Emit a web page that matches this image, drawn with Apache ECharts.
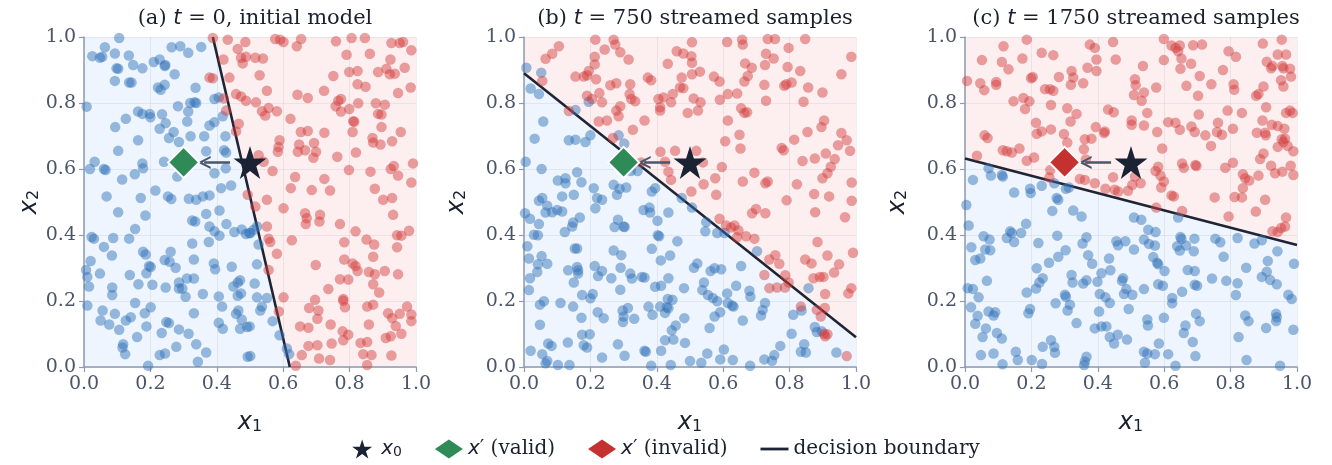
<!DOCTYPE html>
<html><head><meta charset="utf-8">
<script src="https://cdn.jsdelivr.net/npm/echarts@6/dist/echarts.min.js"></script>
<style>html,body{margin:0;padding:0;background:#fff}#c{width:1332px;height:465px}</style>
</head><body><div id="c"></div>
<script>
const ticks = [0, 0.2, 0.4, 0.6, 0.8, 1.0];
const panelTitles = ['(a) ', '(b) ', '(c) '];
const panelTitleMid = [' = 0, initial model', ' = 750 streamed samples', ' = 1750 streamed samples'];
const x0 = [0.5, 0.62];
const xPrime = [0.3, 0.62];
const arrowX = [0.44, 0.362];
const boundaryA = [[0.388, 1.0], [0.62, 0.0]];
const boundaryB = [[0.0, 0.89], [1.0, 0.09]];
const boundaryC = [[0.0, 0.632], [1.0, 0.37]];

const blueA = [[.106,.997],[.063,.969],[.025,.942],[.048,.937],[.055,.940],[.093,.950],[.135,.944],[.264,.969],[.290,.972],[.314,.952],[.353,.970],[.098,.905],[.103,.904],[.148,.915],[.176,.905],[.210,.924],[.228,.932],[.245,.915],[.243,.912],[.273,.887],[.093,.867],[.136,.862],[.143,.862],[.223,.847],[.231,.840],[.243,.855],[.336,.846],[.008,.789],[.163,.774],[.176,.767],[.198,.767],[.200,.757],[.235,.766],[.126,.752],[.094,.727],[.246,.739],[.228,.722],[.283,.790],[.320,.800],[.333,.802],[.338,.800],[.314,.774],[.311,.744],[.270,.712],[.256,.694],[.286,.682],[.321,.699],[.163,.687],[.103,.655],[.032,.622],[.018,.600],[.060,.600],[.065,.597],[.176,.617],[.178,.602],[.153,.584],[.115,.568],[.241,.622],[.281,.577],[.368,.654],[.362,.699],[.378,.732],[.393,.742],[.393,.812],[.406,.817],[.418,.760],[.426,.699],[.422,.657],[.428,.650],[.427,.602],[.393,.587],[.443,.550],[.413,.542],[.215,.535],[.171,.512],[.068,.517],[.253,.517],[.263,.509],[.316,.510],[.338,.507],[.358,.517],[.378,.520],
[.103,.469],[.185,.459],[.326,.444],[.335,.441],[.368,.464],[.408,.474],[.378,.426],[.393,.411],[.408,.398],[.429,.433],[.453,.409],[.475,.417],[.488,.403],[.498,.406],[.154,.418],[.136,.389],[.088,.391],[.023,.394],[.030,.389],[.060,.364],[.084,.338],[.020,.321],[.006,.294],[.010,.273],[.048,.283],[.015,.244],[.085,.241],[.085,.218],[.138,.279],[.164,.251],[.178,.349],[.186,.341],[.196,.306],[.201,.303],[.188,.284],[.206,.249],[.261,.349],[.243,.324],[.258,.319],[.276,.301],[.246,.241],[.286,.256],[.286,.238],[.296,.238],[.306,.213],[.310,.268],[.331,.268],[.331,.326],[.326,.374],[.376,.379],[.391,.314],[.395,.296],[.358,.221],[.406,.214],[.445,.304],[.450,.244],[.463,.256],[.470,.263],[.463,.216],[.473,.223],[.416,.183],[.458,.161],[.465,.171],[.475,.144],[.406,.134],[.418,.116],[.470,.116],[.491,.121],[.493,.031],[.010,.186],[.056,.171],[.050,.141],[.076,.129],[.093,.161],[.106,.113],[.126,.141],[.141,.151],[.154,.194],[.183,.163],[.201,.181],[.188,.123],[.160,.091],[.118,.069],[.116,.059],[.124,.039],[.234,.103],[.248,.136],[.256,.133],[.286,.114],[.315,.101],[.331,.163],[.338,.069],[.278,.061],[.228,.036],[.244,.041],[.368,.044],[.343,.016],[.193,.004],
[.501,.406],[.511,.416],[.521,.426],[.526,.371],[.521,.311],[.514,.253],[.521,.211],[.551,.209],[.536,.183],[.531,.171],[.568,.139],[.499,.123],[.589,.096],[.611,.056],[.618,.039],[.501,.033]];

const redA = [[.388,.997],[.433,.992],[.463,.964],[.486,.985],[.420,.932],[.473,.937],[.478,.920],[.488,.940],[.378,.877],[.388,.875],[.438,.877],[.458,.827],[.473,.820],[.488,.807],[.421,.814],[.428,.777],[.466,.737],[.458,.714],[.493,.522],
[.576,.994],[.591,.992],[.601,.985],[.654,.994],[.641,.972],[.759,.987],[.806,.997],[.846,.997],[.926,.982],[.951,.982],[.961,.985],[.986,.960],[.516,.937],[.539,.935],[.791,.946],[.861,.949],[.923,.932],[.966,.907],[.911,.904],[.886,.894],[.921,.887],[.936,.889],[.799,.894],[.824,.897],[.751,.882],[.529,.884],[.824,.857],[.848,.849],[.984,.847],[.946,.830],[.551,.837],[.643,.825],[.674,.815],[.723,.837],[.766,.807],[.774,.812],[.758,.790],[.774,.774],[.799,.782],[.826,.799],[.879,.799],[.906,.795],[.886,.767],[.896,.765],[.518,.802],[.536,.775],[.546,.762],[.556,.785],[.581,.775],[.622,.752],[.811,.745],[.814,.743],[.896,.727],[.653,.712],[.674,.715],[.724,.710],[.809,.712],[.954,.712],[.589,.687],[.586,.667],[.584,.652],[.648,.674],[.666,.657],[.644,.652],[.693,.679],[.699,.652],[.691,.634],[.869,.694],[.871,.680],[.893,.674],[.928,.684],[.763,.637],[.819,.650],[.541,.622],[.526,.642],[.991,.617],[.568,.594],[.636,.576],[.724,.570],[.798,.597],[.863,.592],[.924,.600],[.933,.609],[.946,.580],[.986,.559],[.623,.542],[.686,.536],[.741,.535],[.876,.540],[.901,.507],[.928,.512],[.551,.507],
[.516,.486],[.601,.481],[.666,.466],[.671,.451],[.668,.433],[.711,.461],[.709,.441],[.771,.433],[.931,.461],[.818,.411],[.979,.413],[.943,.399],[.956,.398],[.851,.386],[.874,.371],[.943,.363],[.784,.378],[.626,.384],[.551,.426],[.556,.389],[.561,.379],[.581,.343],[.698,.309],[.784,.326],[.809,.314],[.818,.306],[.824,.291],[.871,.334],[.858,.288],[.876,.281],[.906,.291],[.946,.281],[.771,.266],[.796,.265],[.871,.251],[.889,.226],[.736,.236],[.696,.204],[.601,.211],[.781,.206],[.781,.201],[.786,.181],[.678,.179],[.706,.171],[.703,.146],[.853,.183],[.871,.189],[.973,.183],[.916,.163],[.928,.148],[.951,.161],[.986,.159],[.986,.139],[.587,.168],[.651,.123],[.676,.119],[.743,.129],[.858,.129],[.939,.124],[.779,.108],[.796,.098],[.781,.081],[.909,.088],[.924,.093],[.956,.101],[.833,.073],[.853,.076],[.746,.071],[.676,.064],[.703,.066],[.841,.039],[.866,.036],[.926,.035],[.656,.036],[.708,.026],[.741,.021],[.853,.006],[.638,.004],[.556,.294]];

const blueB = [[.007,.907],[.052,.892],[.020,.844],[.045,.827],[.155,.779],[.195,.804],[.058,.744],[.032,.692],[.135,.687],[.155,.689],[.185,.682],[.200,.702],[.285,.702],[.302,.677],[.005,.622],[.053,.600],[.160,.590],[.102,.565],[.125,.572],[.125,.557],[.173,.560],[.210,.542],[.150,.522],[.115,.517],[.055,.512],[.045,.504],[.220,.512],[.235,.507],[.270,.552],[.288,.540],[.308,.544],[.280,.522],[.322,.594],[.342,.594],[.385,.532],[.395,.542],[.475,.512],
[.070,.489],[.065,.468],[.085,.469],[.100,.476],[.115,.471],[.003,.466],[.018,.449],[.045,.433],[.030,.401],[.042,.399],[.010,.366],[.015,.329],[.053,.336],[.042,.311],[.070,.313],[.040,.288],[.018,.269],[.015,.233],[.123,.409],[.145,.426],[.148,.438],[.168,.453],[.215,.481],[.283,.446],[.273,.424],[.300,.426],[.303,.424],[.360,.476],[.378,.483],[.380,.468],[.435,.468],[.402,.443],[.403,.399],[.407,.396],[.462,.381],[.440,.338],[.385,.358],[.412,.323],[.153,.359],[.160,.359],[.270,.353],[.293,.339],[.160,.303],[.163,.293],[.163,.283],[.133,.293],[.150,.256],[.213,.306],[.235,.291],[.223,.276],[.291,.301],[.320,.283],[.325,.268],[.263,.269],[.355,.273],[.363,.271],[.435,.269],[.395,.243],[.413,.246],[.482,.239],[.290,.234],[.207,.221],[.200,.208],[.175,.218],[.110,.194],[.060,.199],[.048,.189],[.148,.183],[.173,.149],[.222,.166],[.240,.148],[.297,.171],[.313,.179],[.300,.153],[.298,.136],[.332,.146],[.375,.183],[.387,.158],[.410,.183],[.430,.181],[.435,.178],[.425,.164],[.433,.206],[.447,.204],[.457,.126],[.445,.111],[.483,.148],[.048,.128],[.175,.098],[.198,.099],[.180,.066],[.190,.059],[.132,.074],[.073,.071],[.083,.064],[.020,.049],[.055,.039],[.070,.018],[.065,.011],[.102,.006],[.137,.006],[.235,.029],[.283,.069],[.303,.034],[.363,.049],[.367,.046],[.383,.004],[.425,.081],[.450,.083],[.413,.049],[.442,.006],[.485,.073],[.500,.018],
[.506,.483],[.549,.439],[.546,.411],[.582,.406],[.604,.406],[.702,.351],[.512,.301],[.522,.314],[.562,.291],[.574,.299],[.594,.296],[.654,.306],[.542,.256],[.537,.233],[.554,.218],[.569,.209],[.582,.199],[.612,.223],[.614,.194],[.639,.246],[.679,.231],[.682,.213],[.627,.186],[.631,.183],[.591,.166],[.574,.153],[.726,.194],[.719,.173],[.714,.156],[.659,.141],[.559,.118],[.857,.239],[.811,.158],[.836,.171],[.876,.121],[.882,.106],[.897,.108],[.806,.101],[.772,.064],[.844,.069],[.834,.046],[.849,.044],[.941,.044],[.552,.041],[.534,.013],[.602,.053],[.591,.023],[.629,.021],[.681,.004],[.724,.023],[.747,.019],[.754,.036]];

const redB = [[.215,.992],[.270,.992],[.275,.977],[.105,.972],[.085,.949],[.065,.934],[.243,.962],[.290,.954],[.315,.932],[.213,.940],[.213,.917],[.195,.897],[.190,.884],[.180,.880],[.155,.880],[.217,.872],[.260,.854],[.278,.860],[.320,.857],[.373,.877],[.383,.869],[.433,.919],[.460,.957],[.480,.950],[.475,.877],[.470,.847],[.480,.845],[.448,.827],[.227,.830],[.235,.802],[.190,.822],[.205,.812],[.318,.827],[.323,.812],[.335,.805],[.290,.790],[.278,.777],[.285,.760],[.405,.812],[.420,.817],[.410,.787],[.410,.777],[.443,.802],[.493,.770],[.225,.744],[.250,.747],[.363,.747],[.135,.776],[.328,.719],[.268,.694],[.411,.652],[.455,.655],[.425,.622],[.435,.592],[.443,.567],[.353,.620],[.055,.867],
[.506,.984],[.612,.985],[.657,.992],[.659,.977],[.734,.994],[.756,.994],[.847,.994],[.797,.967],[.729,.949],[.752,.935],[.726,.915],[.504,.942],[.506,.922],[.666,.920],[.686,.907],[.794,.909],[.832,.897],[.986,.940],[.956,.887],[.530,.895],[.506,.887],[.572,.880],[.589,.865],[.674,.882],[.664,.865],[.724,.855],[.784,.852],[.806,.862],[.790,.857],[.856,.847],[.899,.832],[.511,.814],[.532,.802],[.524,.777],[.590,.810],[.614,.827],[.642,.829],[.729,.807],[.842,.804],[.654,.784],[.664,.770],[.672,.772],[.614,.747],[.649,.704],[.606,.684],[.652,.662],[.814,.689],[.854,.712],[.776,.664],[.782,.657],[.904,.747],[.896,.727],[.956,.709],[.972,.687],[.946,.672],[.982,.655],[.839,.624],[.876,.632],[.909,.647],[.936,.630],[.924,.607],[.914,.587],[.899,.572],[.519,.655],[.539,.620],[.596,.606],[.576,.572],[.541,.554],[.504,.532],[.579,.522],[.659,.562],[.694,.589],[.727,.557],[.734,.562],[.822,.554],[.874,.524],[.919,.517],[.987,.559],[.987,.504],[.791,.505],
[.589,.449],[.609,.429],[.624,.423],[.634,.429],[.646,.414],[.642,.393],[.669,.396],[.694,.389],[.687,.466],[.699,.479],[.727,.466],[.877,.469],[.967,.454],[.884,.379],[.914,.338],[.991,.346],[.757,.339],[.739,.326],[.769,.313],[.847,.326],[.866,.314],[.949,.311],[.934,.286],[.724,.279],[.787,.278],[.797,.256],[.872,.269],[.891,.273],[.902,.273],[.739,.239],[.762,.241],[.786,.241],[.907,.221],[.977,.223],[.986,.239],[.834,.183],[.882,.173],[.906,.179],[.894,.153],[.904,.101],[.914,.099],[.907,.093],[.972,.033]];

const blueC = [[.024,.567],[.071,.602],[.078,.580],[.111,.582],[.114,.577],[.148,.529],[.196,.540],[.198,.527],[.231,.549],[.269,.557],[.276,.512],[.281,.507],[.304,.540],[.313,.544],
[.004,.491],[.011,.429],[.019,.363],[.031,.324],[.046,.329],[.056,.396],[.074,.386],[.061,.356],[.076,.354],[.263,.473],[.326,.474],[.351,.456],[.184,.434],[.169,.406],[.136,.411],[.141,.406],[.126,.391],[.148,.379],[.221,.376],[.278,.398],[.354,.374],[.366,.393],[.303,.354],[.371,.339],[.383,.313],[.281,.334],[.253,.316],[.216,.299],[.234,.269],[.224,.256],[.214,.238],[.186,.226],[.321,.279],[.324,.256],[.356,.253],[.366,.263],[.399,.258],[.411,.284],[.438,.293],[.434,.329],[.456,.381],[.461,.369],[.483,.381],[.476,.269],[.473,.261],[.486,.236],[.479,.221],[.066,.261],[.008,.239],[.024,.236],[.041,.211],[.018,.181],[.038,.155],[.031,.131],[.071,.168],[.086,.156],[.091,.166],[.063,.117],[.053,.091],[.096,.103],[.111,.086],[.048,.036],[.086,.041],[.113,.008],[.153,.046],[.159,.021],[.196,.176],[.191,.163],[.273,.193],[.301,.219],[.304,.213],[.316,.189],[.309,.171],[.336,.133],[.406,.221],[.423,.211],[.436,.194],[.404,.168],[.391,.117],[.411,.123],[.426,.123],[.436,.091],[.449,.071],[.460,.098],[.488,.083],[.493,.176],[.259,.081],[.269,.061],[.271,.043],[.234,.061],[.201,.021],[.232,.009],[.366,.031],[.361,.017],[.359,.006],
[.509,.453],[.531,.446],[.552,.416],[.574,.409],[.642,.453],[.539,.386],[.554,.373],[.572,.368],[.509,.356],[.567,.333],[.579,.316],[.582,.311],[.601,.291],[.649,.394],[.652,.388],[.639,.366],[.647,.353],[.666,.368],[.691,.389],[.689,.351],[.754,.389],[.769,.378],[.821,.391],[.872,.374],[.894,.384],[.779,.334],[.941,.351],[.671,.294],[.692,.291],[.744,.268],[.787,.261],[.821,.254],[.847,.301],[.912,.321],[.909,.289],[.894,.273],[.919,.264],[.939,.251],[.991,.313],[.582,.251],[.596,.246],[.692,.249],[.699,.246],[.539,.236],[.504,.219],[.654,.228],[.624,.209],[.624,.193],[.816,.218],[.974,.219],[.984,.206],[.599,.149],[.549,.144],[.551,.126],[.696,.161],[.707,.139],[.664,.126],[.659,.103],[.686,.076],[.844,.156],[.854,.139],[.937,.161],[.939,.151],[.937,.139],[.907,.118],[.989,.113],[.824,.091],[.584,.071],[.539,.046],[.549,.041],[.572,.039],[.542,.013],[.612,.039],[.694,.033],[.634,.004],[.848,.021],[.949,.004]];

const redC = [[.186,.992],[.116,.972],[.051,.930],[.111,.924],[.131,.902],[.173,.935],[.231,.952],[.266,.945],[.376,.977],[.391,.967],[.446,.985],[.396,.932],[.454,.932],[.369,.907],[.396,.897],[.321,.897],[.326,.877],[.319,.855],[.356,.860],[.283,.879],[.199,.875],[.204,.879],[.241,.842],[.256,.842],[.266,.837],[.006,.867],[.046,.860],[.058,.839],[.094,.864],[.094,.855],[.176,.815],[.194,.805],[.181,.782],[.146,.805],[.259,.794],[.308,.784],[.336,.767],[.318,.744],[.431,.780],[.448,.772],[.214,.740],[.216,.707],[.231,.714],[.259,.720],[.298,.706],[.394,.727],[.421,.714],[.419,.709],[.059,.702],[.068,.694],[.308,.680],[.361,.690],[.381,.692],[.358,.660],[.114,.657],[.141,.650],[.164,.662],[.126,.654],[.186,.625],[.208,.635],[.257,.597],[.254,.574],[.364,.629],[.346,.570],[.361,.567],[.391,.557],[.446,.575],[.423,.540],[.451,.537],[.461,.532],[.491,.534],[.036,.640],
[.599,.994],[.622,.974],[.634,.967],[.647,.974],[.642,.957],[.687,.975],[.714,.977],[.794,.957],[.816,.940],[.897,.980],[.954,.992],[.942,.947],[.967,.947],[.909,.925],[.926,.912],[.922,.905],[.956,.912],[.959,.905],[.979,.904],[.982,.880],[.952,.869],[.959,.850],[.599,.930],[.652,.935],[.681,.919],[.649,.904],[.536,.912],[.777,.900],[.707,.882],[.512,.872],[.514,.854],[.509,.824],[.539,.832],[.532,.807],[.576,.847],[.667,.852],[.702,.822],[.742,.857],[.809,.857],[.811,.840],[.877,.822],[.884,.827],[.899,.850],[.549,.770],[.502,.747],[.502,.734],[.539,.732],[.579,.712],[.612,.742],[.634,.740],[.647,.719],[.704,.765],[.791,.777],[.834,.770],[.907,.787],[.979,.777],[.987,.770],[.967,.770],[.762,.740],[.759,.712],[.774,.704],[.682,.729],[.692,.712],[.724,.702],[.807,.722],[.741,.670],[.879,.710],[.904,.710],[.906,.702],[.896,.747],[.924,.734],[.942,.730],[.962,.722],[.942,.667],[.954,.690],[.964,.692],[.972,.670],[.959,.682],[.989,.654],[.594,.662],[.899,.647],[.889,.630],[.654,.617],[.659,.604],[.694,.612],[.697,.609],[.807,.619],[.784,.604],[.922,.610],[.934,.587],[.956,.592],[.981,.610],[.989,.582],[.582,.607],[.574,.594],[.589,.580],[.599,.562],[.591,.544],[.512,.577],[.529,.557],[.504,.552],[.837,.584],[.844,.572],[.856,.565],[.884,.580],[.837,.542],[.834,.514],[.622,.520],[.629,.517],[.752,.514],[.812,.515],[.904,.507],
[.576,.483],[.654,.473],[.794,.456],[.876,.471],[.967,.453],[.964,.426],[.952,.421],[.942,.409],[.926,.411]];

const panels = [
  {blue: blueA, red: redA, boundary: boundaryA, vertical: true, prime: 'xvalid', primeColor: '#2e8b57'},
  {blue: blueB, red: redB, boundary: boundaryB, vertical: false, prime: 'xvalid', primeColor: '#2e8b57'},
  {blue: blueC, red: redC, boundary: boundaryC, vertical: false, prime: 'xinvalid', primeColor: '#c53030'}
];
const gridLefts = [84, 524, 965];
const yNameGaps = [33, 55, 55];

const STAR = 'path://M50,0 L61.2,34.5 L97.6,34.5 L68.2,55.9 L79.4,90.5 L50,69.1 L20.6,90.5 L31.8,55.9 L2.4,34.5 L38.8,34.5 Z';
const CHEVRON = 'path://M0,10 L5,0 L10,10 L8.3,10 L5,3.6 L1.7,10 Z';
const SERIF = 'DejaVu Serif';
const SANS = 'DejaVu Sans';
const INK = '#1a202c';
const richMath = {
  n: {fontFamily: SERIF, fontSize: 21, fontWeight: 'normal', color: INK},
  i: {fontFamily: SANS, fontStyle: 'italic', fontWeight: 'normal', fontSize: 21, color: INK}
};

function regions(p) {
  const b = p.boundary;
  if (p.vertical) {
    return {blue: [[0,0],[0,1],b[0],b[1]], red: [b[0],[1,1],[1,0],b[1]]};
  }
  return {blue: [[0,0],b[0],b[1],[1,0]], red: [b[0],[0,1],[1,1],b[1]]};
}

const grid = [], xAxis = [], yAxis = [], series = [], title = [];
panels.forEach((p, k) => {
  grid.push({left: gridLefts[k], top: 37, width: 332, height: 330});
  const axisCommon = {
    type: 'value', min: 0, max: 1, interval: 0.2, gridIndex: k, z: 1,
    axisLine: {show: true, lineStyle: {color: '#8e9ab0', width: 1.5}},
    axisTick: {show: true, length: 5, lineStyle: {color: '#8e9ab0', width: 1.2}},
    axisLabel: {formatter: v => v.toFixed(1), color: '#4a5568', fontFamily: SERIF, fontSize: 19, margin: 8},
    splitLine: {show: true, lineStyle: {color: 'rgba(120,130,150,0.13)', width: 1}},
    nameLocation: 'middle',
    nameTextStyle: {rich: {
      i: {fontFamily: SANS, fontStyle: 'italic', fontSize: 24, color: INK},
      s: {fontFamily: SANS, fontSize: 16, color: INK, verticalAlign: 'bottom', padding: [6, 0, 0, 0]}
    }}
  };
  xAxis.push(Object.assign({}, axisCommon, {name: '{i|x}{s|1}', nameGap: 44}));
  yAxis.push(Object.assign({}, axisCommon, {name: '{i|x}{s|2}', nameGap: yNameGaps[k]}));
  title.push({
    text: '{n|' + panelTitles[k] + '}{i|t}{n|' + panelTitleMid[k] + '}',
    left: gridLefts[k] + 166, top: 3, textAlign: 'center',
    textStyle: {fontWeight: 'normal', rich: richMath}
  });
  const reg = regions(p);
  ['blue', 'red'].forEach(side => {
    series.push({
      type: 'custom', xAxisIndex: k, yAxisIndex: k, silent: true, z: 0,
      data: [0],
      renderItem: (params, api) => ({
        type: 'polygon',
        shape: {points: reg[side].map(pt => api.coord(pt))},
        style: {fill: side === 'blue' ? '#eef5fe' : '#fdeff0'}
      })
    });
  });
  series.push({
    name: 'boundary', type: 'line', xAxisIndex: k, yAxisIndex: k, data: p.boundary,
    showSymbol: false, silent: true, z: 3, color: '#1e2433',
    lineStyle: {color: '#1e2433', width: 2.6}
  });
  series.push({
    type: 'scatter', xAxisIndex: k, yAxisIndex: k, data: p.blue, symbolSize: 10.5, silent: true, z: 4,
    itemStyle: {color: '#3171b8', opacity: 0.48}
  });
  series.push({
    type: 'scatter', xAxisIndex: k, yAxisIndex: k, data: p.red, symbolSize: 10.5, silent: true, z: 4,
    itemStyle: {color: '#d33c3c', opacity: 0.48}
  });
  series.push({
    type: 'lines', coordinateSystem: 'cartesian2d', xAxisIndex: k, yAxisIndex: k, silent: true, z: 5,
    data: [{coords: [[arrowX[0], x0[1]], [arrowX[1], xPrime[1]]]}],
    symbol: ['none', CHEVRON], symbolSize: 13,
    lineStyle: {color: '#4a5568', width: 2.5, opacity: 1, curveness: 0}
  });
  series.push({
    name: 'x0', type: 'scatter', xAxisIndex: k, yAxisIndex: k, data: [x0], symbol: STAR, symbolSize: 33,
    silent: true, z: 6, itemStyle: {color: '#1a2233', opacity: 1}
  });
  series.push({
    name: p.prime, type: 'scatter', xAxisIndex: k, yAxisIndex: k, data: [xPrime], symbol: 'diamond', symbolSize: 31,
    silent: true, z: 6, itemStyle: {color: p.primeColor, borderColor: '#ffffff', borderWidth: 2, opacity: 1}
  });
});

const legendLabels = {
  x0: '{i|x}{s|0}',
  xvalid: '{i|x}{n|′ (valid)}',
  xinvalid: '{i|x}{n|′ (invalid)}',
  boundary: '{n|decision boundary}'
};

const option = {
  animation: false,
  backgroundColor: '#ffffff',
  title: title,
  grid: grid, xAxis: xAxis, yAxis: yAxis, series: series,
  legend: {
    selectedMode: false, left: 'center', top: 434, itemGap: 33, itemWidth: 28, itemHeight: 19,
    data: [
      {name: 'x0', icon: STAR, itemStyle: {color: '#1a2233', borderWidth: 0, opacity: 1}},
      {name: 'xvalid', icon: 'diamond', itemStyle: {color: '#2e8b57', borderWidth: 0, opacity: 1}},
      {name: 'xinvalid', icon: 'diamond', itemStyle: {color: '#c53030', borderWidth: 0, opacity: 1}},
      {name: 'boundary', icon: 'path://M0,0 L30,0 L30,3 L0,3 Z', itemStyle: {color: '#1e2433', borderWidth: 0, opacity: 1}}
    ],
    formatter: name => legendLabels[name],
    textStyle: {rich: {
      n: {fontFamily: SERIF, fontSize: 20, color: INK},
      i: {fontFamily: SANS, fontStyle: 'italic', fontSize: 20, color: INK},
      s: {fontFamily: SANS, fontSize: 14, color: INK, verticalAlign: 'bottom', padding: [6, 0, 0, 0]}
    }}
  }
};
echarts.init(document.getElementById('c'), null, {renderer: 'canvas'}).setOption(option);
</script></body></html>
